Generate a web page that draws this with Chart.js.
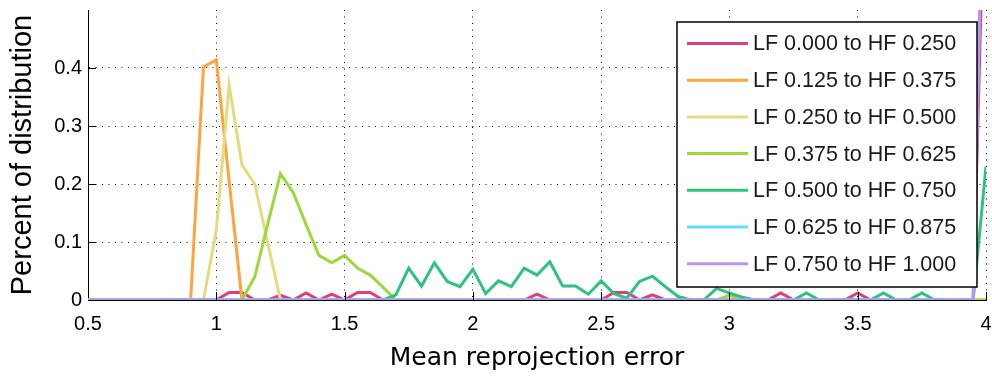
<!DOCTYPE html>
<html>
<head>
<meta charset="utf-8">
<script src="https://cdn.jsdelivr.net/npm/chart.js@4.4.1/dist/chart.umd.min.js"></script>
<style>
  html, body { margin: 0; padding: 0; background: #ffffff; }
  #wrap { width: 992px; height: 379px; }
</style>
</head>
<body>
<div id="wrap"><canvas id="chart" width="992" height="379"></canvas></div>
<script>
// Histogram bin centres of the mean reprojection error
const errorBins = [
  0.50, 0.55, 0.60, 0.65, 0.70, 0.75, 0.80, 0.85, 0.90, 0.95,
  1.00, 1.05, 1.10, 1.15, 1.20, 1.25, 1.30, 1.35, 1.40, 1.45,
  1.50, 1.55, 1.60, 1.65, 1.70, 1.75, 1.80, 1.85, 1.90, 1.95,
  2.00, 2.05, 2.10, 2.15, 2.20, 2.25, 2.30, 2.35, 2.40, 2.45,
  2.50, 2.55, 2.60, 2.65, 2.70, 2.75, 2.80, 2.85, 2.90, 2.95,
  3.00, 3.05, 3.10, 3.15, 3.20, 3.25, 3.30, 3.35, 3.40, 3.45,
  3.50, 3.55, 3.60, 3.65, 3.70, 3.75, 3.80, 3.85, 3.90, 3.95,
  4.00
];

const seriesLabels = [
  'LF 0.000 to HF 0.250',
  'LF 0.125 to HF 0.375',
  'LF 0.250 to HF 0.500',
  'LF 0.375 to HF 0.625',
  'LF 0.500 to HF 0.750',
  'LF 0.625 to HF 0.875',
  'LF 0.750 to HF 1.000'
];

const seriesColors = ['#d9407d', '#ffa43c', '#e2dc7e', '#9bd83c', '#2ec27e', '#5ee0f2', '#b896f4'];

// Share of samples falling in each bin, one array per band
const band000to250 = [
  0, 0, 0, 0, 0, 0, 0, 0, 0, 0,
  0, 0.013, 0.013, 0, 0, 0.008, 0, 0.012, 0, 0.010,
  0, 0.013, 0.013, 0, 0, 0, 0, 0, 0, 0,
  0, 0, 0, 0, 0, 0.010, 0, 0, 0, 0,
  0, 0.013, 0.013, 0, 0.009, 0, 0, 0, 0, 0,
  0, 0, 0, 0, 0.012, 0, 0, 0, 0, 0,
  0.012, 0, 0, 0, 0, 0, 0, 0, 0, 0,
  0.83
];
const band125to375 = [
  0, 0, 0, 0, 0, 0, 0, 0, 0, 0.402,
  0.414, 0.205, 0, 0, 0, 0, 0, 0, 0, 0,
  0, 0, 0, 0, 0, 0, 0, 0, 0, 0,
  0, 0, 0, 0, 0, 0, 0, 0, 0, 0,
  0, 0, 0, 0, 0, 0, 0, 0, 0, 0,
  0, 0, 0, 0, 0, 0, 0, 0, 0, 0,
  0, 0, 0, 0, 0, 0, 0, 0, 0, 0,
  0
];
const band250to500 = [
  0, 0, 0, 0, 0, 0, 0, 0, 0, 0,
  0.12, 0.371, 0.233, 0.2, 0.1, 0, 0, 0, 0, 0,
  0, 0, 0, 0, 0, 0, 0, 0, 0, 0,
  0, 0, 0, 0, 0, 0, 0, 0, 0, 0,
  0, 0, 0, 0, 0, 0, 0, 0, 0, 0,
  0, 0, 0, 0, 0, 0, 0, 0, 0, 0,
  0, 0, 0, 0, 0, 0, 0, 0, 0, 0,
  0
];
const band375to625 = [
  0, 0, 0, 0, 0, 0, 0, 0, 0, 0,
  0, 0, 0, 0.04, 0.13, 0.218, 0.185, 0.13, 0.077, 0.064,
  0.077, 0.055, 0.043, 0.022, 0, 0, 0, 0, 0, 0,
  0, 0, 0, 0, 0, 0, 0, 0, 0, 0,
  0, 0, 0, 0, 0, 0, 0, 0, 0, 0,
  0.008, 0, 0, 0, 0, 0, 0, 0, 0, 0,
  0, 0, 0, 0, 0, 0, 0, 0, 0, 0,
  0
];
const band500to750 = [
  0, 0, 0, 0, 0, 0, 0, 0, 0, 0,
  0, 0, 0, 0, 0, 0, 0, 0, 0, 0,
  0, 0, 0, 0, 0.009, 0.055, 0.024, 0.064, 0.032, 0.023,
  0.053, 0.011, 0.033, 0.023, 0.055, 0.043, 0.066, 0.024, 0.024, 0.010,
  0.033, 0.011, 0.003, 0.032, 0.041, 0.023, 0.006, 0, 0, 0.020,
  0.012, 0.005, 0, 0, 0, 0, 0.012, 0, 0, 0,
  0, 0, 0.012, 0, 0, 0.012, 0, 0, 0, 0,
  0.23
];
const band625to875 = [
  0, 0, 0, 0, 0, 0, 0, 0, 0, 0,
  0, 0, 0, 0, 0, 0, 0, 0, 0, 0,
  0, 0, 0, 0, 0, 0, 0, 0, 0, 0,
  0, 0, 0, 0, 0, 0, 0, 0, 0, 0,
  0, 0, 0, 0, 0, 0, 0, 0, 0, 0,
  0, 0, 0, 0, 0, 0, 0, 0, 0, 0,
  0, 0, 0, 0, 0, 0, 0, 0, 0, 0,
  1.0
];
const band750to1000 = [
  0, 0, 0, 0, 0, 0, 0, 0, 0, 0,
  0, 0, 0, 0, 0, 0, 0, 0, 0, 0,
  0, 0, 0, 0, 0, 0, 0, 0, 0, 0,
  0, 0, 0, 0, 0, 0, 0, 0, 0, 0,
  0, 0, 0, 0, 0, 0, 0, 0, 0, 0,
  0, 0, 0, 0, 0, 0, 0, 0, 0, 0,
  0, 0, 0, 0, 0, 0, 0, 0, 0, 0,
  1.0
];

const xTickValues = [0.5, 1, 1.5, 2, 2.5, 3, 3.5, 4];
const yTickValues = [0, 0.1, 0.2, 0.3, 0.4];

const allSeries = [band000to250, band125to375, band250to500, band375to625,
                   band500to750, band625to875, band750to1000];

const FONT = "'Liberation Sans', Arial, Helvetica, sans-serif";
const TITLE_FONT = "'DejaVu Sans', Verdana, sans-serif";

const datasets = allSeries.map((values, i) => ({
  label: seriesLabels[i],
  data: errorBins.map((x, j) => ({ x: x, y: values[j] })),
  borderColor: seriesColors[i],
  backgroundColor: seriesColors[i],
  borderWidth: 3,
  pointRadius: 0,
  pointHoverRadius: 0,
  tension: 0,
  fill: false,
  // later bands are painted over earlier ones
  order: allSeries.length - 1 - i
}));

// Inward tick marks on both axes plus a boxed legend over the plot
const overlayPlugin = {
  id: 'overlay',
  afterDatasetsDraw(chart) {
    const { ctx, chartArea: area, scales } = chart;
    const tickLen = 8;
    ctx.save();
    ctx.strokeStyle = '#000';
    ctx.lineWidth = 1;
    ctx.beginPath();
    xTickValues.forEach(v => {
      if (v === scales.x.min) return;
      const px = Math.round(scales.x.getPixelForValue(v)) + 0.5;
      ctx.moveTo(px, area.bottom);
      ctx.lineTo(px, area.bottom - tickLen);
    });
    yTickValues.forEach(v => {
      if (v === scales.y.min) return;
      const py = Math.round(scales.y.getPixelForValue(v)) + 0.5;
      ctx.moveTo(area.left, py);
      ctx.lineTo(area.left + tickLen, py);
    });
    ctx.stroke();

    // legend box
    const boxRight = area.right - 9;
    const boxW = 300, boxTop = area.top + 12, boxH = 265;
    const boxLeft = boxRight - boxW;
    ctx.fillStyle = '#ffffff';
    ctx.fillRect(boxLeft, boxTop, boxW, boxH);
    ctx.lineWidth = 1.5;
    ctx.strokeStyle = '#000';
    ctx.strokeRect(boxLeft, boxTop, boxW, boxH);

    ctx.font = '21.5px ' + FONT;
    ctx.textBaseline = 'middle';
    ctx.textAlign = 'left';
    const rowGap = 36.7;
    chart.data.datasets.forEach((ds, i) => {
      const y = boxTop + 21.5 + i * rowGap;
      ctx.strokeStyle = ds.borderColor;
      ctx.lineWidth = 3;
      ctx.beginPath();
      ctx.moveTo(boxLeft + 10, y);
      ctx.lineTo(boxLeft + 71, y);
      ctx.stroke();
      ctx.fillStyle = '#1a1a1a';
      ctx.fillText(ds.label, boxLeft + 76, y + 1);
    });
    ctx.restore();
  }
};

new Chart(document.getElementById('chart'), {
  type: 'line',
  data: { datasets },
  plugins: [overlayPlugin],
  options: {
    responsive: false,
    animation: false,
    devicePixelRatio: 1,
    layout: { padding: { top: 10, right: 6, left: 0, bottom: 0 } },
    plugins: {
      legend: { display: false },
      tooltip: { enabled: false }
    },
    scales: {
      x: {
        type: 'linear',
        min: 0.5,
        max: 4,
        afterBuildTicks: s => { s.ticks = xTickValues.map(v => ({ value: v })); },
        afterFit: s => { s.height = 79; s.paddingLeft = 0; s.paddingRight = 0; },
        ticks: {
          color: '#000',
          padding: 12,
          maxRotation: 0,
          autoSkip: false,
          font: { family: FONT, size: 20 },
          callback: v => String(v)
        },
        grid: {
          drawTicks: false,
          lineWidth: 1,
          color: c => (c.tick && c.tick.value === 0.5) ? 'rgba(0,0,0,0)' : '#000'
        },
        border: { display: true, color: '#000', width: 1, dash: [1, 5.5] },
        title: {
          display: true,
          text: 'Mean reprojection error',
          color: '#000',
          font: { family: TITLE_FONT, size: 25 },
          padding: { top: 0, bottom: 6 }
        }
      },
      y: {
        min: 0,
        max: 0.5,
        afterBuildTicks: s => { s.ticks = yTickValues.map(v => ({ value: v })); },
        afterFit: s => { s.width = 88; s.paddingTop = 0; s.paddingBottom = 0; },
        ticks: {
          color: '#000',
          padding: 6,
          autoSkip: false,
          font: { family: FONT, size: 20 },
          callback: v => String(v)
        },
        grid: {
          drawTicks: false,
          lineWidth: 1,
          color: c => (c.tick && c.tick.value === 0) ? 'rgba(0,0,0,0)' : '#000'
        },
        border: { display: true, color: '#000', width: 1, dash: [1, 5.5] },
        title: {
          display: true,
          text: 'Percent of distribution',
          color: '#000',
          font: { family: FONT, size: 29 },
          padding: { top: 6, bottom: 0 }
        }
      }
    }
  }
});
</script>
</body>
</html>
